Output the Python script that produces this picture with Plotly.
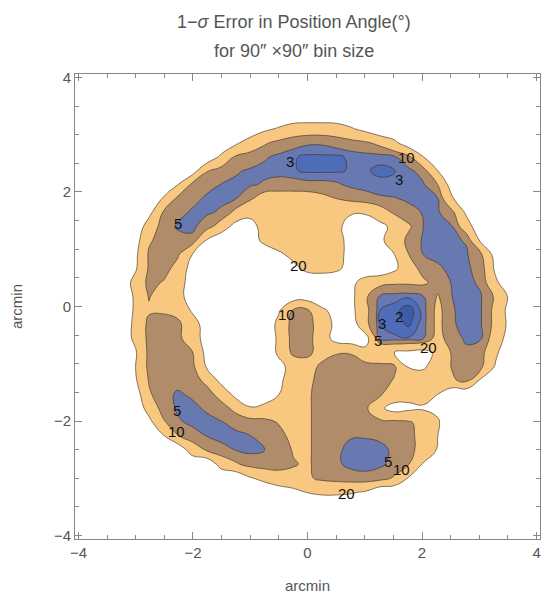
import numpy as np
import plotly.graph_objects as go

# sample positions of the value grid (arcmin); rows listed from top to bottom
x_arcmin = np.linspace(-4.03, 4.04, 33)
y_arcmin = np.linspace(4.08, -3.73, 33)

# 1-sigma error in position angle (deg)
error_deg = [
 [28]*33,
 [28]*33,
 [28]*33,
 [28]*33,
 [28,28,28,28,28,28,28,28,28,28,28,28,28,22,19,15,14,14,15,19,23,28,28,28,28,28,28,28,28,28,28,28,28],
 [28,28,28,28,28,28,28,28,28,28,28,22,15,11,8,6.5,5.5,5.5,6.5,7.5,9,12,18,26,28,28,28,28,28,28,28,28,28],
 [28,28,28,28,28,28,28,28,28,28,18,9,7.5,5.5,4.2,3.2,2.6,2.6,2.6,3.4,3.6,3.6,4.6,9,20,28,28,28,28,28,28,28,28],
 [28,28,28,28,28,28,28,28,25,10.5,7,5.5,4.5,4,3.8,3.2,2.6,2.6,2.7,3.2,3.2,2.6,2.95,4,7,20,28,28,28,28,28,28,28],
 [28,28,28,28,28,28,28,20,8,6,4.9,4.2,4.5,5.5,6.5,6.5,6,6,5.5,4.2,3.8,3.5,3.2,3.8,4.5,10,25,28,28,28,28,28,28],
 [28,28,28,28,28,28,19,8,6,4.5,4.3,4.8,9,14,14,14,14,12,10,8,6.5,5.5,5.2,4.5,4.2,4.8,19,28,28,28,28,28,28],
 [28,28,28,28,28,23,9,6,4.5,4.5,5.5,12,17,16,15,14,14,14,16,19,19,14,9,6,4.8,4.5,8,22,28,28,28,28,28],
 [28,28,28,28,28,15,7,4.5,4.2,7,14,24,24,16,14,14,14,14,17,25,26,23,17,11,5,4.5,4.8,15,28,28,28,28,28],
 [28,28,28,28,25,11,7,6.5,6,21,28,28,26,17,14,14,14,14,16,24,26,22,15,8,4.5,4.2,4.4,5.3,22,28,28,28,28],
 [28,28,28,28,23,9,7,9,20,28,28,28,28,28,22,17,14,14,17,23,28,28,20,10,5,4.2,4,4.6,9,24,28,28,28],
 [28,28,28,28,22,9,7,13,24,28,28,28,28,28,28,23,17,16,18,24,28,28,22,13,8,5.5,4.2,4.4,6.5,22,28,28,28],
 [28,28,28,28,17,8,10.5,16,24,28,28,28,28,28,28,28,28,28,28,23,15,12,11,11,11,8,4.6,4.3,5.5,18,28,28,28],
 [28,28,28,28,19,9.5,14,17,24,28,28,28,28,28,28,25,25,28,28,23,11,4.5,3.5,3.2,4.8,10.5,5,4.2,4.8,11,22,28,28],
 [28,28,28,28,19,11,11,13,21,28,28,28,28,28,21,9,9,18,24,23,12,3.0,2.4,1.3,3.5,12,5.2,4.2,4.8,12,24,28,28],
 [28,28,28,28,18,8,7,8,16,24,28,28,28,28,17,7,7.5,14,23,26,12,3.0,2.5,1.8,3.6,12,5.3,4.2,4.8,12,23,28,28],
 [28,28,28,28,18,8,7,8,15,24,28,28,28,28,18,7,7.5,15,24,26,24,4.5,3.2,3.1,4.8,13,6,4.6,4.8,14,25,28,28],
 [28,28,28,28,22,8,7,7.5,9.5,23,28,28,28,28,18,8,8,14,10.5,10.5,17,19.5,20,22,23,18,9,5.5,7.5,18,28,28,28],
 [28,28,28,28,21,8,7,7,8,21,28,28,28,28,23,16,14,8,7,7,7,7.5,9,21,21.5,15,9.5,7,8,21,28,28,28],
 [28,28,28,28,22,9.5,6.5,6,7,12,23,28,28,28,22,15,12,7,6.5,6.5,7,7.5,10.5,14,15,14,11,8,22,28,28,28,28],
 [28,28,28,28,26,11,6,4.6,5.5,7,13,23,28,28,20,14,11,7,6,6.5,7,9,14,17,17,20,28,28,28,28,28,28,28],
 [28,28,28,28,28,16,7,4.5,4.2,5.5,7,12,19,16,14,12,11,7,6,6.5,8.5,18,24,22,21,22,28,28,28,28,28,28,28],
 [28,28,28,28,28,23,11,5.5,4.3,4,4.8,6,6.5,8,10.5,13,11,7,6,6.5,8,8,8,9,13,19,27,28,28,28,28,28,28],
 [28,28,28,28,28,28,21,10.5,6.5,5,4.2,4.2,4.9,6,8,12,11,7,5.5,5.2,5.2,5.5,6.5,8,13,20,28,28,28,28,28,28,28],
 [28,28,28,28,28,28,28,28,15,9.5,6,5,4.2,4.9,6.5,10.5,11,7,5.5,4.2,4,4.3,5.5,8,13,21,28,28,28,28,28,28,28],
 [28,28,28,28,28,28,28,28,28,28,16,11,7.5,6.5,7,9.5,11,7,5.5,4.2,4,4.4,6,10,21,28,28,28,28,28,28,28,28],
 [28,28,28,28,28,28,28,28,28,28,28,28,21,17,14,12,11,8.5,7.5,6.5,6,7,11,21,28,28,28,28,28,28,28,28,28],
 [28,28,28,28,28,28,28,28,28,28,28,28,28,28,25,23,19.5,18,18,19,21,28,28,28,28,28,28,28,28,28,28,28,28],
 [28]*33,
 [28]*33,
]

contour_levels = [20, 10, 5, 3, 2]
level_colors = ["#F9C880", "#B08C6A", "#6878B1", "#4E6CB8", "#3B5DA6"]

label_text = ["3", "10", "3", "5", "20", "10", "2", "3", "5", "20", "5", "10", "5", "10", "20"]
label_x = [-0.31, 1.73, 1.59, -2.27, -0.15, -0.37, 1.59, 1.30, 1.23, 2.11, -2.28, -2.29, 1.40, 1.65, 0.68]
label_y = [2.53, 2.61, 2.21, 1.45, 0.71, -0.14, -0.18, -0.30, -0.60, -0.71, -1.81, -2.19, -2.70, -2.85, -3.26]

z = np.array(error_deg[::-1], dtype=float)
yy = y_arcmin[::-1]

FONT = "Liberation Sans, Arial, sans-serif"

fig = go.Figure()
for lev, col in zip(contour_levels, level_colors):
    fig.add_trace(go.Contour(
        x=x_arcmin, y=yy, z=z,
        contours=dict(type="constraint", operation=">", value=lev),
        fillcolor=col,
        line=dict(color="rgba(60,48,36,0.7)", width=0.9, smoothing=1.3),
        showscale=False, hoverinfo="skip", showlegend=False,
    ))

for t, lx, ly in zip(label_text, label_x, label_y):
    fig.add_annotation(x=lx, y=ly, text=t, showarrow=False, borderpad=0,
                       font=dict(family=FONT, size=15, color="#111"))

fig.add_annotation(xref="paper", yref="paper", x=0.471, y=1.112, yanchor="middle",
                   text="1\u2212<i>\u03c3</i> Error in Position Angle(\u00b0)", showarrow=False,
                   font=dict(family=FONT, size=18, color="#555"))
fig.add_annotation(xref="paper", yref="paper", x=0.471, y=1.049, yanchor="middle",
                   text="for 90\u2033 \u00d790\u2033 bin size", showarrow=False,
                   font=dict(family=FONT, size=18, color="#555"))

axis_common = dict(
    range=[-4.06, 4.06], tick0=0, dtick=2, ticks="inside", ticklen=7, tickcolor="#888",
    showline=True, linecolor="#888", linewidth=1, mirror="ticks",
    showgrid=False, zeroline=False, automargin=False,
    minor=dict(dtick=0.5, ticks="inside", ticklen=4, tickcolor="#888", showgrid=False),
    tickfont=dict(family=FONT, size=15, color="#555"),
)
fig.update_xaxes(**axis_common, title=dict(text="arcmin", standoff=20,
                 font=dict(family=FONT, size=15, color="#555")))
fig.update_yaxes(**axis_common, title=dict(text="arcmin", standoff=27,
                 font=dict(family=FONT, size=15, color="#555")))

fig.update_layout(width=551, height=598, margin=dict(l=75, r=11, t=74, b=59),
                  plot_bgcolor="white", paper_bgcolor="white")
fig.write_html("out.html", config={"displayModeBar": False},
               post_script="document.body.style.margin='0';")
